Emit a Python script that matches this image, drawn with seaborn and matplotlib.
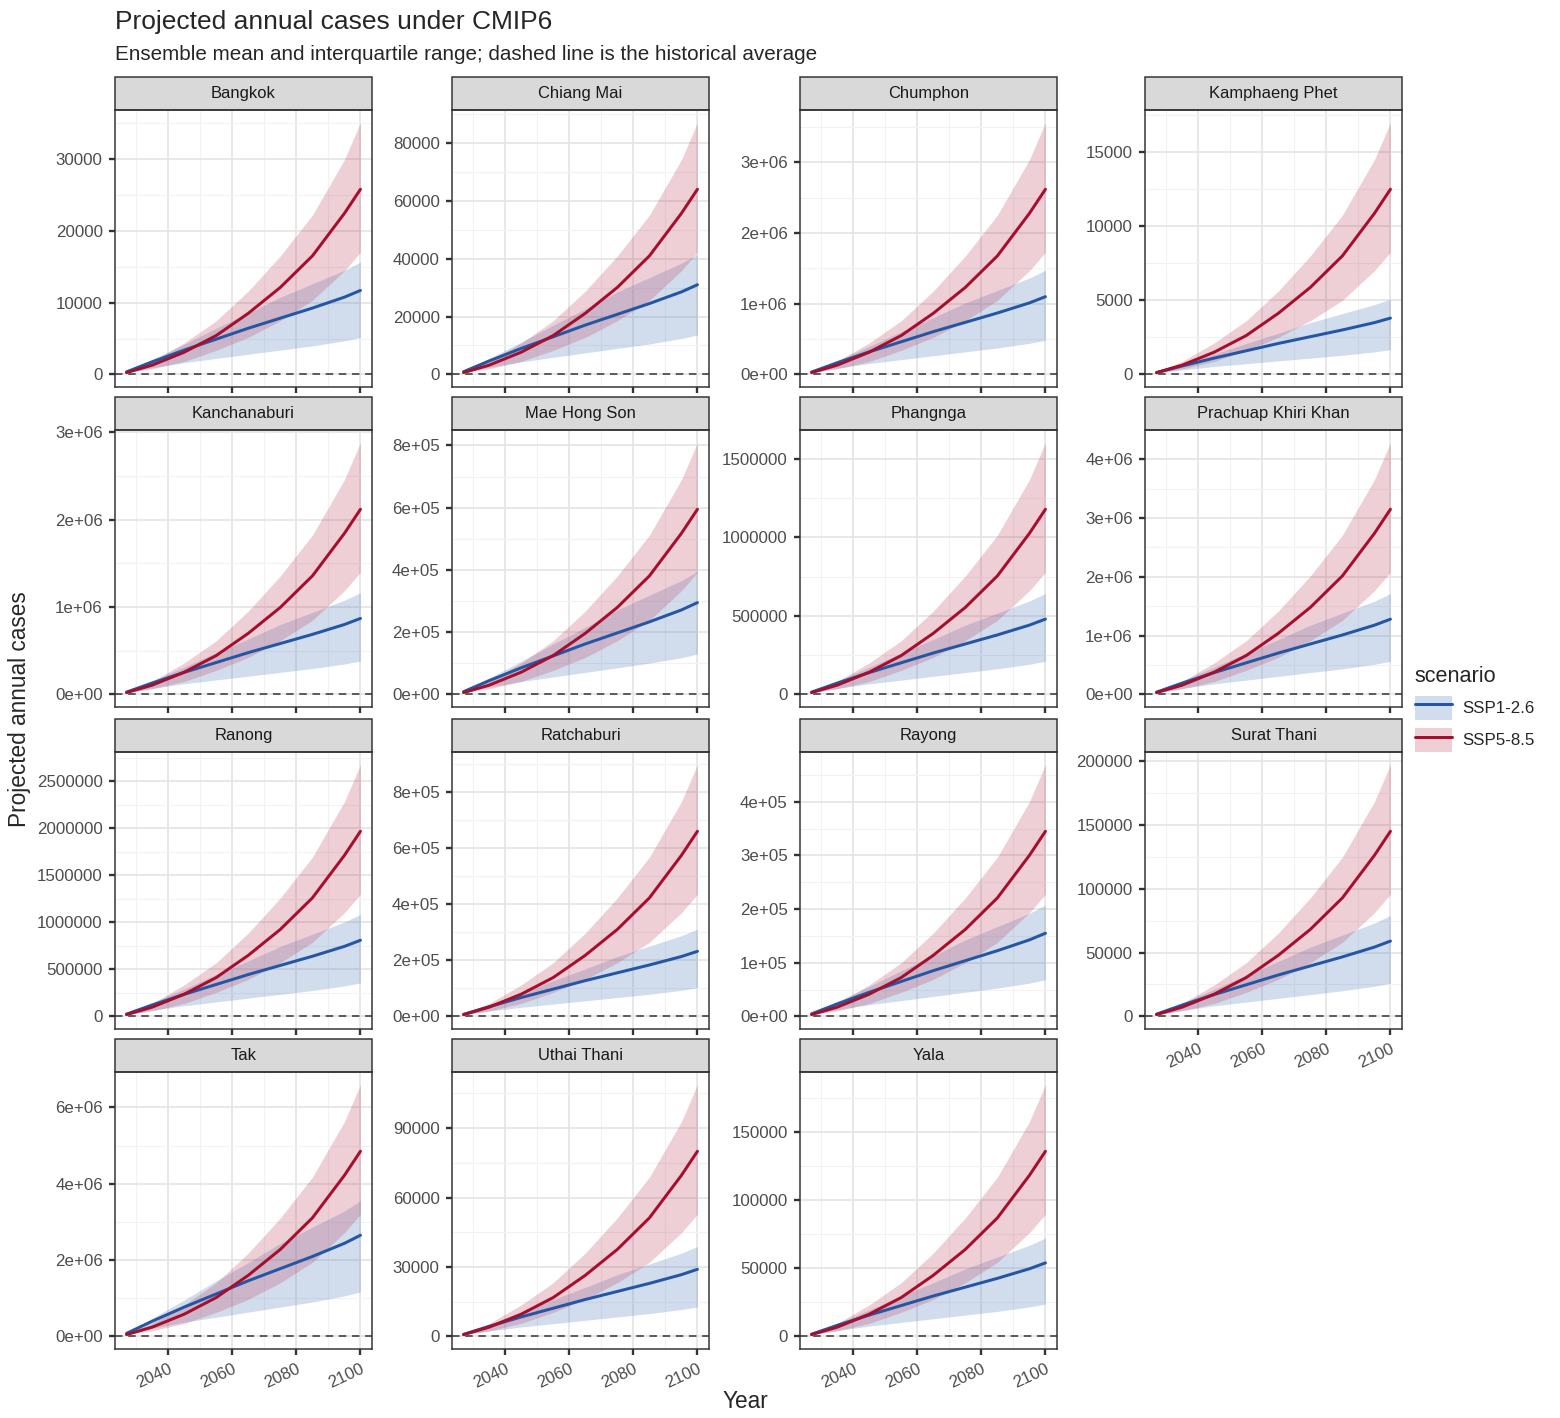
import matplotlib.pyplot as plt
import matplotlib.ticker as mticker
from matplotlib.patches import Rectangle
from matplotlib.lines import Line2D
import seaborn as sns
import pandas as pd
import numpy as np

provinces = ["Bangkok", "Chiang Mai", "Chumphon", "Kamphaeng Phet", "Kanchanaburi",
             "Mae Hong Son", "Phangnga", "Prachuap Khiri Khan", "Ranong", "Ratchaburi",
             "Rayong", "Surat Thani", "Tak", "Uthai Thani", "Yala"]
years = [2027, 2035, 2045, 2055, 2065, 2075, 2085, 2095, 2100]
# ensemble profiles (fraction of each scenario's 2100 mean)
ssp126_mean = [0.03, 0.15, 0.29, 0.42, 0.55, 0.67, 0.79, 0.92, 1.00]
ssp126_lo = [0.02, 0.08, 0.14, 0.19, 0.24, 0.29, 0.34, 0.40, 0.44]
ssp126_hi = [0.03, 0.18, 0.36, 0.55, 0.73, 0.92, 1.08, 1.24, 1.34]
ssp585_mean = [0.01, 0.05, 0.12, 0.21, 0.33, 0.47, 0.64, 0.87, 1.00]
ssp585_lo = [0.01, 0.03, 0.07, 0.13, 0.20, 0.29, 0.40, 0.56, 0.66]
ssp585_hi = [0.015, 0.07, 0.17, 0.29, 0.45, 0.64, 0.86, 1.16, 1.36]
end_ssp126 = [11700, 31000, 1.10e6, 3800, 870000, 295000, 480000, 1.28e6, 810000,
              232000, 155000, 59000, 2.65e6, 29000, 54000]
end_ssp585 = [25800, 64000, 2.62e6, 12500, 2.12e6, 595000, 1.18e6, 3.15e6, 1.97e6,
              660000, 345000, 145000, 4.85e6, 80000, 136000]
y_step = [10000, 20000, 1e6, 5000, 1e6, 2e5, 500000, 1e6, 500000,
          2e5, 1e5, 50000, 2e6, 30000, 50000]
sci_axis = [False, False, True, False, True, True, False, True, False,
            True, True, False, True, False, False]

rows = []
for p, e1, e5 in zip(provinces, end_ssp126, end_ssp585):
    for i, y in enumerate(years):
        rows.append((p, "SSP1-2.6", y, ssp126_mean[i] * e1, ssp126_lo[i] * e1, ssp126_hi[i] * e1))
        rows.append((p, "SSP5-8.5", y, ssp585_mean[i] * e5, ssp585_lo[i] * e5, ssp585_hi[i] * e5))
df = pd.DataFrame(rows, columns=["province", "scenario", "year", "mean", "lo", "hi"])

colors = {"SSP1-2.6": "#2456a4", "SSP5-8.5": "#a50f2d"}
fills = {"SSP1-2.6": "#4a7ab8", "SSP5-8.5": "#c0405c"}

sns.set_theme(style="white")
plt.rcParams['font.family'] = ['Liberation Sans', 'DejaVu Sans']
W, H = 1560, 1418
fig = plt.figure(figsize=(W / 135.4, H / 135.4), dpi=135.4)

lefts = [115, 452, 800, 1145]
pw = 257
tops = [110, 430, 752, 1072]
ph = 277


def sci_fmt(v, pos):
    if v == 0:
        return "0e+00"
    e = int(np.floor(np.log10(abs(v))))
    return f"{v / 10**e:g}e+{e:02d}"


for k, p in enumerate(provinces):
    r, c = divmod(k, 4)
    ax = fig.add_axes([lefts[c] / W, 1 - (tops[r] + ph) / H, pw / W, ph / H])
    sub = df[df.province == p]
    for sc in ["SSP1-2.6", "SSP5-8.5"]:
        s = sub[sub.scenario == sc]
        ax.fill_between(s.year, s.lo, s.hi, color=fills[sc], alpha=0.25, lw=0)
    sns.lineplot(data=sub, x="year", y="mean", hue="scenario", palette=colors,
                 ax=ax, legend=False, lw=1.6)
    ax.axhline(0, color="#555555", ls=(0, (4, 3)), lw=1)
    ax.set_xlim(2023.4, 2103.6)
    top = sub.hi.max()
    ax.set_ylim(-0.05 * top, top * 1.05)
    ax.set_xlabel("")
    ax.set_ylabel("")
    ax.xaxis.set_major_locator(mticker.FixedLocator([2040, 2060, 2080, 2100]))
    ax.xaxis.set_minor_locator(mticker.FixedLocator([2030, 2050, 2070, 2090]))
    ax.yaxis.set_major_locator(mticker.MultipleLocator(y_step[k]))
    ax.yaxis.set_minor_locator(mticker.AutoMinorLocator(2))
    if sci_axis[k]:
        ax.yaxis.set_major_formatter(mticker.FuncFormatter(sci_fmt))
    else:
        ax.yaxis.set_major_formatter(mticker.FuncFormatter(lambda v, pos: f"{v:.0f}"))
    ax.grid(True, which="major", color="#e5e5e5", lw=0.9)
    ax.grid(True, which="minor", color="#f2f2f2", lw=0.6)
    ax.set_axisbelow(True)
    for sp in ax.spines.values():
        sp.set_color("#333333")
        sp.set_linewidth(0.8)
    ax.tick_params(axis="both", which="major", length=3, color="#333333",
                   labelsize=9, labelcolor="#4d4d4d", bottom=True, left=True)
    bottom_row = (k + 4 >= len(provinces))
    if bottom_row:
        ax.tick_params(axis="x", labelrotation=25)
        for lab in ax.get_xticklabels():
            lab.set_ha("right")
            lab.set_rotation_mode("anchor")
    else:
        ax.tick_params(axis="x", labelbottom=False)
    sh = 33 / ph
    ax.add_patch(Rectangle((0, 1), 1, sh, transform=ax.transAxes, clip_on=False,
                           facecolor="#d9d9d9", edgecolor="#333333", lw=0.8))
    ax.text(0.5, 1 + sh / 2, p, transform=ax.transAxes, ha="center", va="center",
            fontsize=8.8, color="#1a1a1a")

fig.text(115 / W, 1 - 22 / H, "Projected annual cases under CMIP6", fontsize=14, va="center")
fig.text(115 / W, 1 - 55 / H, "Ensemble mean and interquartile range; dashed line is the historical average",
         fontsize=11, va="center")
fig.text(20 / W, 0.5, "Projected annual cases", rotation=90, fontsize=12, va="center", ha="center")
fig.text(745 / W, 1 - 1402 / H, "Year", fontsize=12, ha="center", va="center")

handles = [(Rectangle((0, 0), 1, 1, facecolor=fills[s], alpha=0.25, lw=0),
            Line2D([], [], color=colors[s], lw=1.6)) for s in colors]
fig.legend(handles, list(colors), title="scenario", loc="center left",
           bbox_to_anchor=(1408 / W, 0.5), frameon=False, fontsize=9,
           title_fontsize=11.5, alignment="left", handlelength=2.2, handleheight=1.8,
           borderaxespad=0, handletextpad=0.6)

fig.savefig("out.png", dpi=135.4)
